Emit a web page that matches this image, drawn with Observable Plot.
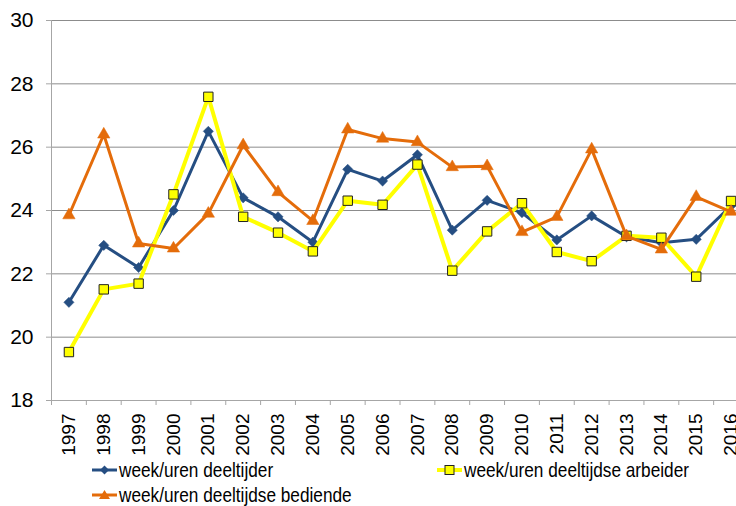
<!DOCTYPE html>
<html>
<head>
<meta charset="utf-8">
<script src="https://cdn.jsdelivr.net/npm/d3@7"></script>
<script src="https://cdn.jsdelivr.net/npm/@observablehq/plot@0.6"></script>
<style>
  html, body { margin: 0; padding: 0; background: #fff; width: 736px; height: 506px; overflow: hidden; }
  #wrap { position: relative; width: 736px; height: 506px; overflow: hidden; }
  #chart { position: absolute; left: 0; top: 0; width: 750px; }
  #chart svg { max-width: none !important; width: 750px; height: 456px; display: block; }
  .leg { position: absolute; display: flex; align-items: center; font-family: "Liberation Sans", Arial, sans-serif; font-size: 21px; color: #000; white-space: nowrap; line-height: 22px; }
  .leg svg { display: block; margin-right: 1px; flex: none; }
  .leg span { display: inline-block; transform: scaleX(0.82); transform-origin: 0 50%; }
</style>
</head>
<body>
<div id="wrap">
  <div id="chart"></div>
</div>
<script>
const years = [1997, 1998, 1999, 2000, 2001, 2002, 2003, 2004, 2005, 2006, 2007, 2008, 2009, 2010, 2011, 2012, 2013, 2014, 2015, 2016];
const deeltijder = [21.1, 22.9, 22.2, 24.0, 26.5, 24.4, 23.8, 23.0, 25.3, 24.93, 25.76, 23.38, 24.32, 23.93, 23.07, 23.83, 23.17, 22.98, 23.09, 24.15];
const arbeider   = [19.53, 21.51, 21.69, 24.51, 27.59, 23.8, 23.3, 22.71, 24.31, 24.18, 25.45, 22.1, 23.34, 24.23, 22.69, 22.4, 23.2, 23.14, 21.91, 24.3];
const bediende   = [23.85, 26.4, 22.96, 22.8, 23.9, 26.06, 24.58, 23.67, 26.56, 26.27, 26.16, 25.37, 25.4, 23.32, 23.8, 25.93, 23.19, 22.77, 24.43, 23.96];
const yTicks = [18, 20, 22, 24, 26, 28, 30];
const seriesNames = ["week/uren deeltijder", "week/uren deeltijdse arbeider", "week/uren deeltijdse bediende"];

const blue = "#254E82", yellow = "#FFFF00", orange = "#E46C0A";
const axisGray = "#a6a6a6", gridGray = "#8c8c8c";
const boundaries = years.map(y => y - 0.5).concat([years[years.length - 1] + 0.5]);

const chart = Plot.plot({
  width: 750,
  height: 456,
  marginLeft: 51,
  marginRight: 2,
  marginTop: 20,
  marginBottom: 56,
  x: { domain: [years[0] - 0.5, years[years.length - 1] + 0.5] },
  y: { domain: [yTicks[0], yTicks[yTicks.length - 1]] },
  style: { fontFamily: "'Liberation Sans', Arial, sans-serif", background: "white", color: "#000", overflow: "visible", maxWidth: "none" },
  marks: [
    Plot.ruleY(yTicks.slice(1), { stroke: gridGray, strokeWidth: 1 }),
    Plot.ruleY([yTicks[0]], { stroke: axisGray, strokeWidth: 1 }),
    Plot.ruleX([boundaries[0]], { stroke: axisGray, strokeWidth: 1 }),
    Plot.axisY({ ticks: yTicks, tickSize: 5, tickFormat: () => "", stroke: axisGray, strokeOpacity: 1 }),
    Plot.axisY({ ticks: yTicks, tickSize: 0, tickPadding: 18, fontSize: 21, fill: "#000", ariaLabel: "ylabels" }),
    Plot.axisX({ ticks: boundaries, tickSize: 5, tickFormat: () => "", stroke: axisGray, strokeOpacity: 1 }),
    Plot.axisX({ ticks: years, tickSize: 0, tickPadding: 13, tickRotate: -90, fontSize: 19, fill: "#000", tickFormat: d => String(d) }),
    Plot.line(years, { x: d => d, y: deeltijder, stroke: blue, strokeWidth: 3, strokeLinejoin: "round" }),
    Plot.dot(years, { x: d => d, y: deeltijder, symbol: "diamond2", r: 4.6, fill: blue, stroke: blue, strokeWidth: 0.5 }),
    Plot.line(years, { x: d => d, y: arbeider, stroke: yellow, strokeWidth: 4, strokeLinejoin: "round" }),
    Plot.dot(years, { x: d => d, y: arbeider, symbol: "square", r: 5.3, fill: yellow, stroke: "#222", strokeWidth: 1 }),
    Plot.line(years, { x: d => d, y: bediende, stroke: orange, strokeWidth: 3, strokeLinejoin: "round" }),
    Plot.dot(years, { x: d => d, y: bediende, symbol: "triangle", r: 4.6, fill: orange, stroke: orange, strokeWidth: 0.5 })
  ]
});
document.getElementById("chart").appendChild(chart);

// condense y tick labels (narrow look of the original)
d3.select(chart).selectAll('g[aria-label="ylabels"] text').each(function () {
  const t = this.getAttribute("transform") || "";
  this.setAttribute("transform", (t + " scale(0.86,1)").trim());
});

// Legend
const wrap = document.getElementById("wrap");
const legendItems = [
  { name: seriesNames[0], color: blue, marker: "diamond", left: 92, top: 459 },
  { name: seriesNames[1], color: yellow, marker: "square", left: 437, top: 459 },
  { name: seriesNames[2], color: orange, marker: "triangle", left: 92, top: 484 }
];
for (const it of legendItems) {
  const div = document.createElement("div");
  div.className = "leg";
  div.style.left = it.left + "px";
  div.style.top = it.top + "px";
  let m = "";
  if (it.marker === "diamond") m = `<path d="M12.5,2.5 L17,7 L12.5,11.5 L8,7 Z" fill="${it.color}"/>`;
  if (it.marker === "square") m = `<rect x="8" y="2.5" width="9" height="9" fill="${it.color}" stroke="#222" stroke-width="1"/>`;
  if (it.marker === "triangle") m = `<path d="M12.5,2 L18,11 L7,11 Z" fill="${it.color}"/>`;
  const sw = it.marker === "square" ? 4 : 3;
  div.innerHTML = `<svg width="26" height="14" viewBox="0 0 26 14"><line x1="0" y1="7" x2="25" y2="7" stroke="${it.color}" stroke-width="${sw}"/>${m}</svg><span>${it.name}</span>`;
  wrap.appendChild(div);
}
</script>
</body>
</html>
